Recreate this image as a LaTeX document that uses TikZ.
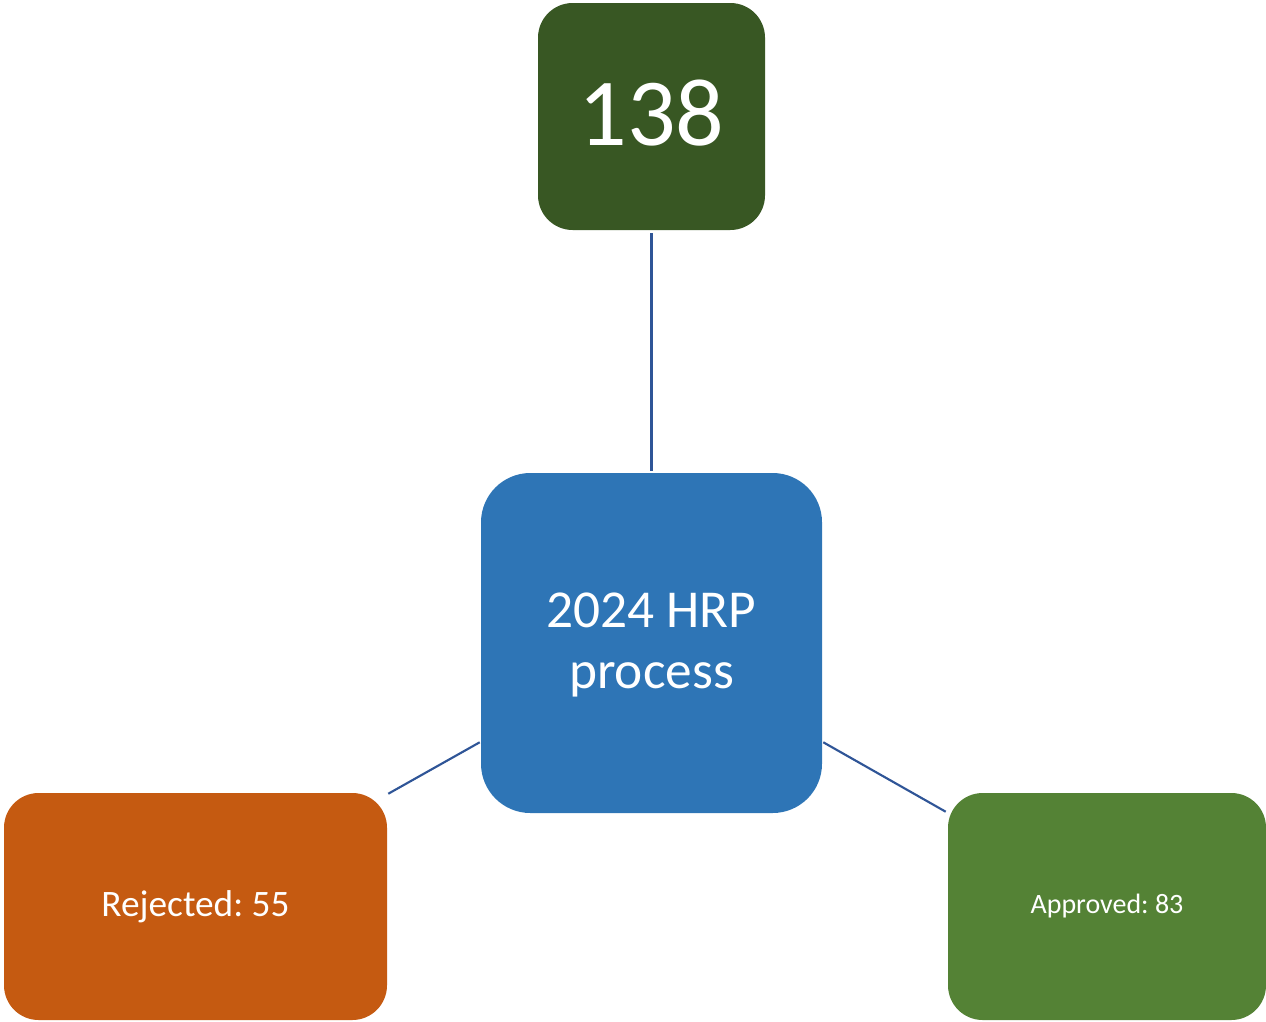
\documentclass[tikz,border=0pt]{standalone}
\usepackage{fontspec}
\setmainfont{Carlito}
\frenchspacing
\definecolor{topgreen}{HTML}{385723}
\definecolor{hrpblue}{HTML}{2E75B6}
\definecolor{rejorange}{HTML}{C55A11}
\definecolor{appgreen}{HTML}{548235}
\definecolor{linkblue}{HTML}{2F5597}
\begin{document}
\begin{tikzpicture}[x=0.75pt,y=-0.75pt,
  box/.style={rounded corners=26pt, draw=none, text=white, align=center, inner sep=0pt},
  link/.style={draw=linkblue, line width=1.6pt}]
\useasboundingbox (0,0) rectangle (1266,1021);
\node[box, fill=topgreen, minimum width=170.25pt, minimum height=170.25pt] (total) at (651.5,116.5) {};
\node[text=white, font=\fontsize{72}{80}\selectfont, inner sep=0pt] (totaltext) at (651.5,113) {138};
\node[box, fill=hrpblue, rounded corners=37pt, minimum width=255.75pt, minimum height=255pt] (hrp) at (651.5,643) {};
\node[text=white, align=center, inner sep=0pt, font=\fontsize{40}{46}\selectfont] (hrptext) at (651.5,645) {2024 HRP\\process};
\node[box, fill=rejorange, minimum width=287.25pt, minimum height=170.25pt,
  font=\fontsize{28}{32}\selectfont] (rej) at (195.5,906.5) {Rejected: 55};
\node[box, fill=appgreen, minimum width=238.5pt, minimum height=170.25pt,
  font=\fontsize{21}{25}\selectfont] (app) at (1107,906.5) {Approved: 83};
\draw[link, shorten <=2.25pt, shorten >=1.5pt] (total.south) -- (hrp.north);
\draw[link] ([xshift=-0.75pt,yshift=53.25pt]hrp.south west) -- ([xshift=0.75pt,yshift=-0.75pt]rej.north east);
\draw[link] ([xshift=0.75pt,yshift=53.25pt]hrp.south east) -- ([xshift=-1.5pt,yshift=-14.25pt]app.north west);
\end{tikzpicture}
\end{document}
